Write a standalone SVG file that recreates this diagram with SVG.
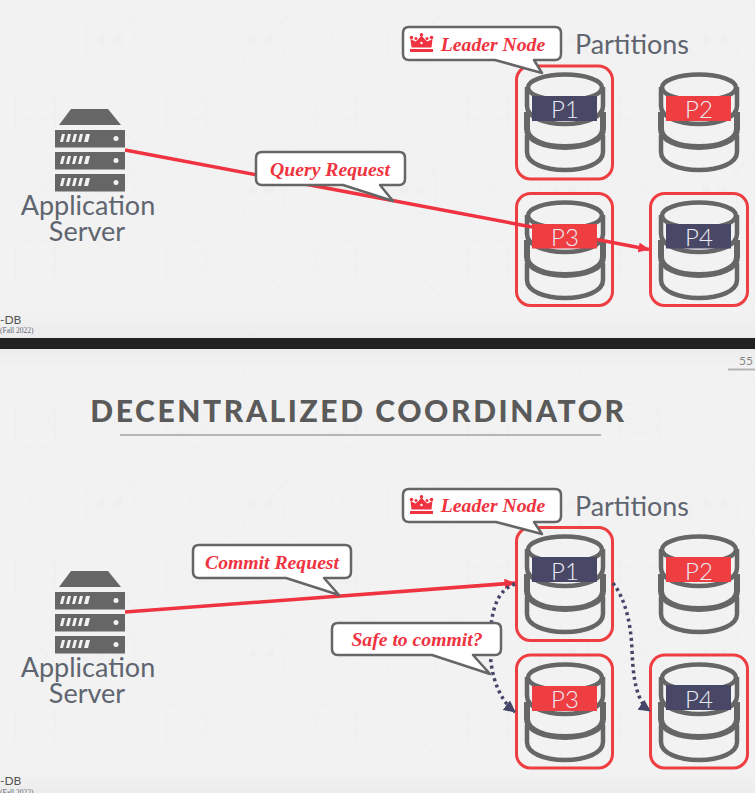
<svg xmlns="http://www.w3.org/2000/svg" width="755" height="793" viewBox="0 0 755 793">
<style>
.lato{font-family:Lato,"Open Sans",sans-serif}
.cap{font-family:Lato,sans-serif;font-size:27px;fill:#5f6570;font-weight:400;text-anchor:middle}
.part{font-family:Lato,sans-serif;font-size:26.900px;fill:#5f6570;font-weight:400}
.pl{font-family:Lato,sans-serif;font-size:24px;fill:#e8ecf5;text-anchor:middle;font-weight:300}
.call{font-family:"Liberation Serif",serif;font-style:italic;font-weight:700;font-size:19.700px;fill:#ef3340;text-anchor:middle}
.bub{fill:#fff;stroke:#666;stroke-width:2.500;stroke-linejoin:round}
.box{fill:none;stroke:#ef3e42;stroke-width:3}
.red{stroke:#ef3340;stroke-width:3.500;fill:none}
.dot{stroke:#45456a;stroke-width:3.500;fill:none;stroke-dasharray:3 3.500}
.cyl{fill:#f2f2f2;stroke:#666;stroke-width:4.500}
.wm{fill:none;stroke:#efefef;stroke-width:1.200}
.foot{font-family:Lato,sans-serif;font-size:12px;fill:#555}
.term{font-family:"Liberation Serif",serif;font-size:7.500px;fill:#667}
</style>
<defs>
<marker id="ar" markerWidth="11" markerHeight="10" refX="10.500" refY="5" orient="auto" markerUnits="userSpaceOnUse"><path d="M0 0L11 5L0 10z" fill="#ef3340"/></marker>
<marker id="ad" markerWidth="12" markerHeight="12" refX="11" refY="6" orient="auto" markerUnits="userSpaceOnUse"><path d="M0 0L12 6L0 12z" fill="#45456a"/></marker>
<linearGradient id="fadeD" x1="0" y1="0" x2="0" y2="1"><stop offset="0" stop-color="#f2f2f2"/><stop offset="1" stop-color="#ececec"/></linearGradient>
<linearGradient id="fadeU" x1="0" y1="0" x2="0" y2="1"><stop offset="0" stop-color="#ececec"/><stop offset="1" stop-color="#f2f2f2"/></linearGradient>
<pattern id="wmA" width="151" height="150" patternUnits="userSpaceOnUse"><g id="wmTile">
<path class="wm" d="M35 30L42 37L35 44L28 37zM110 105L117 112L110 119L103 112zM42 37L103 98M117 98L151 64M0 64L28 44M42 30L72 0M28 30L0 2M151 2L110 45M117 126L142 150M103 126L79 150"/>
<path class="wm" d="M86 35C86 20 97 12 110 12C123 12 135 20 135 35C135 42 134 46 132 50C135 54 135 58 131 58L127 58L127 63H93L93 58L89 58C85 58 85 54 88 50C86 46 86 42 86 35Z"/>
<circle cx="102" cy="40" r="4" fill="#efefef"/><circle cx="119" cy="40" r="4" fill="#efefef"/>
<path class="wm" d="M15 98V126C15 131 24 135 35 135C46 135 55 131 55 126V98M15 98C15 93 24 90 35 90C46 90 55 93 55 98C55 103 46 105 35 105C24 105 15 103 15 98ZM15 112C15 117 24 120 35 120C46 120 55 117 55 112"/>
</g></pattern>
<pattern id="wmB" width="151" height="150" patternUnits="userSpaceOnUse" patternTransform="translate(0 463)"><use href="#wmTile"/></pattern>
<g id="db">
<path class="cyl" d="M-38 62V79C-38 90-21 97 0 97S38 90 38 79V62"/>
<path class="cyl" style="stroke-width:6" d="M-38 39V56C-38 67-21 74 0 74S38 67 38 56V39"/>
<path class="cyl" d="M-38 14V33C-38 44-21 51 0 51S38 44 38 33V14"/>
<ellipse class="cyl" cx="0" cy="14.500" rx="37" ry="13"/>
</g>
<g id="srv" fill="#666">
<path d="M71 0H108L121 16H59z"/>
<rect x="55" y="21" width="70" height="17.500"/><rect x="55" y="43" width="70" height="17.500"/><rect x="55" y="65" width="70" height="17.500"/>
<g fill="#f2f2f2"><circle cx="116" cy="29.500" r="2.500"/><circle cx="116" cy="51.500" r="2.500"/><circle cx="116" cy="73.500" r="2.500"/>
<path d="M62 25h3l-2 8h-3zM68 25h3l-2 8h-3zM74 25h3l-2 8h-3zM80 25h3l-2 8h-3zM86 25h4l-2 8h-4z"/>
<path d="M62 47h3l-2 8h-3zM68 47h3l-2 8h-3zM74 47h3l-2 8h-3zM80 47h3l-2 8h-3zM86 47h4l-2 8h-4z"/>
<path d="M62 69h3l-2 8h-3zM68 69h3l-2 8h-3zM74 69h3l-2 8h-3zM80 69h3l-2 8h-3zM86 69h4l-2 8h-4z"/></g>
</g>
<g id="crown" fill="#ef3340"><path d="M0 19V16H23V19zM1.500 14.500L0.500 6L5.500 8.500L8 6.500L11.500 2.500L15 6.500L17.500 8.500L22.500 6L21.500 14.500z"/><circle cx="1.500" cy="4.500" r="1.800"/><circle cx="21.500" cy="4.500" r="1.800"/><circle cx="11.500" cy="1.800" r="1.800"/><circle cx="6" cy="5.500" r="1.500"/><circle cx="17" cy="5.500" r="1.500"/><circle cx="11.500" cy="10" r="1.200" fill="#fff"/></g>
</defs>
<rect width="755" height="793" fill="#f2f2f2"/>
<rect y="0" width="755" height="338" fill="url(#wmA)"/>
<rect y="349" width="755" height="444" fill="url(#wmB)"/>
<rect x="0" y="312" width="755" height="26" fill="url(#fadeD)"/>
<rect x="0" y="349" width="755" height="18" fill="url(#fadeU)"/>
<rect x="0" y="772" width="755" height="21" fill="url(#fadeD)"/>
<rect x="0" y="338" width="755" height="11" fill="#222"/>

<g id="footer-top"><text class="foot" x="0" y="324">-DB</text><text class="term" x="0" y="333">(Fall 2022)</text></g>
<g id="footer-bottom"><text class="foot" x="0" y="785">-DB</text><text class="term" x="0" y="795">(Fall 2022)</text></g>
<g id="page-number"><text x="746" y="365" font-family="Lato,sans-serif" font-size="12" fill="#888" text-anchor="middle">55</text><path d="M728 369.500H755" stroke="#b5b5b5" stroke-width="2"/></g>
<g id="title"><text x="358.500" y="422" class="lato" font-size="30" font-weight="900" letter-spacing="2.600" fill="#5a5a5a" text-anchor="middle">DECENTRALIZED COORDINATOR</text><path d="M120 435H601" stroke="#b5b5b5" stroke-width="2"/></g>

<g id="top-server"><use href="#srv" y="109"/><text class="cap" x="88" y="215">Application</text><text class="cap" x="87" y="241">Server</text></g>
<g id="bottom-server"><use href="#srv" y="571"/><text class="cap" x="88" y="677">Application</text><text class="cap" x="87" y="703">Server</text></g>

<g id="top-p1"><use href="#db" x="565" y="73"/><rect x="532" y="96" width="65" height="25" fill="#484766"/><text class="pl" x="565" y="118">P1</text><rect class="box" x="516.500" y="66" width="96" height="113" rx="14"/></g>
<g id="top-p2"><use href="#db" x="699" y="73"/><rect x="666" y="96" width="65" height="25" fill="#ef3e42"/><text class="pl" x="699" y="118">P2</text></g>
<g id="top-p3"><use href="#db" x="565" y="201"/><rect x="532" y="224" width="65" height="24.500" fill="#ef3e42"/><text class="pl" x="565" y="246">P3</text><rect class="box" x="516.500" y="193.500" width="96" height="112" rx="14"/></g>
<g id="top-p4"><use href="#db" x="699" y="201"/><rect x="666" y="224" width="65" height="24.500" fill="#484766"/><text class="pl" x="699" y="246">P4</text><rect class="box" x="650.500" y="193.500" width="97" height="112" rx="14"/></g>

<g id="bottom-p1"><use href="#db" x="565" y="535"/><rect x="532" y="557" width="65" height="25" fill="#484766"/><text class="pl" x="565" y="580">P1</text><rect class="box" x="516.500" y="527.500" width="96" height="113" rx="14"/></g>
<g id="bottom-p2"><use href="#db" x="699" y="535"/><rect x="666" y="557" width="65" height="25" fill="#ef3e42"/><text class="pl" x="699" y="580">P2</text></g>
<g id="bottom-p3"><use href="#db" x="565" y="663"/><rect x="532" y="686" width="65" height="25" fill="#ef3e42"/><text class="pl" x="565" y="708">P3</text><rect class="box" x="516.500" y="655" width="96" height="113" rx="14"/></g>
<g id="bottom-p4"><use href="#db" x="699" y="663"/><rect x="666" y="685" width="65" height="25" fill="#484766"/><text class="pl" x="699" y="708">P4</text><rect class="box" x="650.500" y="655" width="97" height="113" rx="14"/></g>

<text class="part" x="575" y="54">Partitions</text>
<text class="part" x="575" y="516">Partitions</text>

<g id="connectors">
<path class="red" d="M125 150L532 227"/>
<path class="red" d="M597 239.500L649 249.500" marker-end="url(#ar)"/>
<path class="red" d="M125 612L515 583" marker-end="url(#ar)"/>
<path class="dot" d="M515 584C497 590 491 610 490 640C489 670 497 698 515 712" marker-end="url(#ad)"/>
<path class="dot" d="M613 583C626 600 631 625 632 650C633 680 637 702 650 711" marker-end="url(#ad)"/>
</g>

<g id="top-leader"><path class="bub" d="M409 27H555Q561 27 561 33V54Q561 60 555 60H534L542 73L495 60H409Q403 60 403 54V33Q403 27 409 27Z"/><use href="#crown" x="410" y="33"/><text class="call" x="493" y="51">Leader Node</text></g>
<g id="bottom-leader"><path class="bub" d="M409 489H555Q561 489 561 495V516Q561 522 555 522H534L542 534L496 522H409Q403 522 403 516V495Q403 489 409 489Z"/><use href="#crown" x="410" y="495"/><text class="call" x="493" y="512">Leader Node</text></g>
<g id="query-request"><path class="bub" d="M262 152H399Q405 152 405 158V179Q405 185 399 185H380L393 201L343 185H262Q256 185 256 179V158Q256 152 262 152Z"/><text class="call" x="330" y="176">Query Request</text></g>
<g id="commit-request"><path class="bub" d="M199 545H345Q351 545 351 551V572Q351 578 345 578H324L339 595L286 578H199Q193 578 193 572V551Q193 545 199 545Z"/><text class="call" x="272" y="569">Commit Request</text></g>
<g id="safe-to-commit"><path class="bub" d="M338 623H495Q501 623 501 629V649Q501 655 495 655H473L490 674L432 655H338Q332 655 332 649V629Q332 623 338 623Z"/><text class="call" x="417" y="646">Safe to commit?</text></g>
</svg>
